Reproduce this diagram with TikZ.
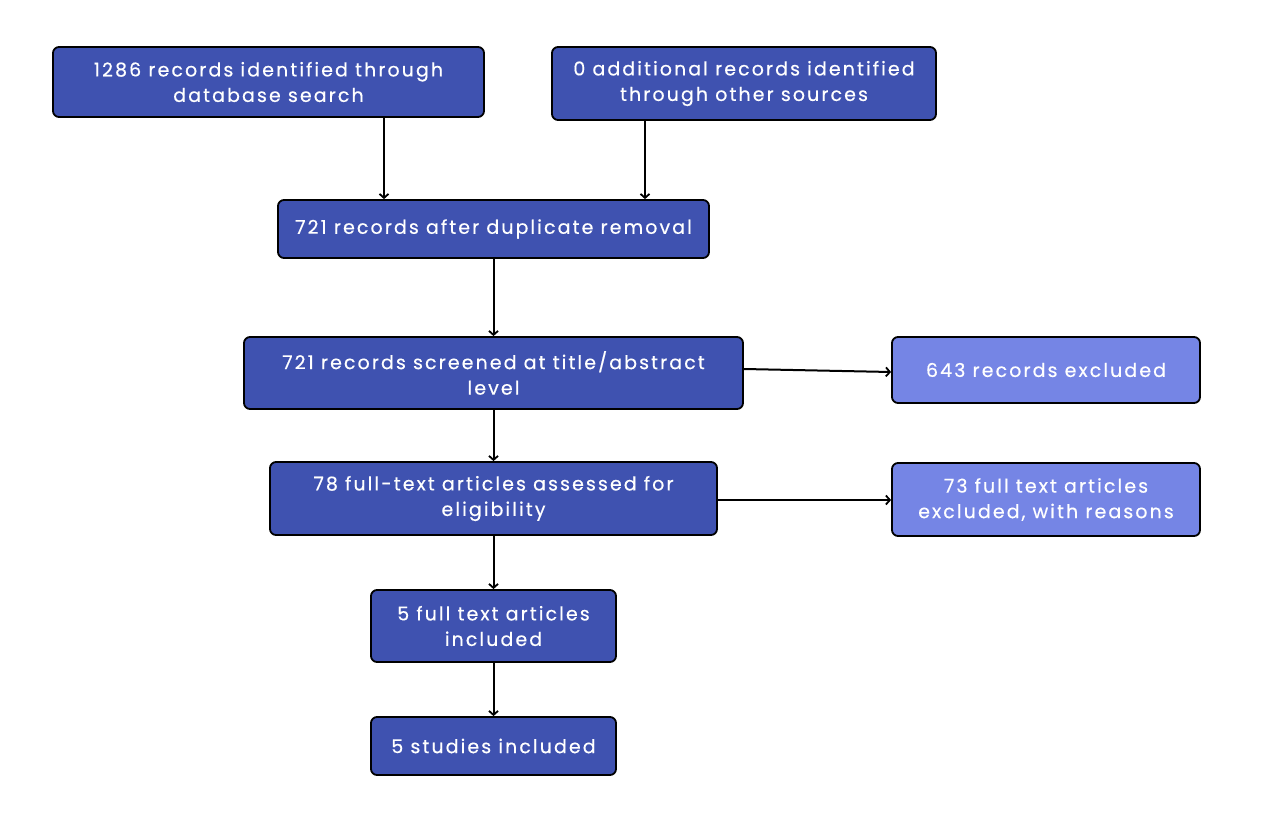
\documentclass[tikz,border=0pt]{standalone}
\usepackage{fontspec}
\setmainfont{Poppins}[LetterSpace=11,FakeBold=0.4]
\usetikzlibrary{arrows.meta}
\definecolor{boxdark}{RGB}{63,82,176}
\definecolor{boxlight}{RGB}{117,133,229}
\tikzset{
  flowbox/.style={draw=black, line width=1.8pt, rounded corners=6pt, fill=boxdark,
    text=white, align=center, font=\fontsize{19}{25.5}\selectfont, inner sep=0pt},
  exclbox/.style={flowbox, fill=boxlight},
  flowarrow/.style={draw=black, line width=2pt, -{Straight Barb[length=4pt,width=9pt,line width=1.8pt]}}
}
\begin{document}
\begin{tikzpicture}[x=1pt,y=-1pt]
\useasboundingbox (0,0) rectangle (1280,816);
% boxes by pixel geometry: center, width, height
\node[flowbox, minimum width=431pt, minimum height=70pt] (A) at (268.5,82) {1286 records identified through\\database search};
\node[flowbox, minimum width=384pt, minimum height=73pt] (B) at (744,83.5) {0 additional records identified\\through other sources};
\node[flowbox, minimum width=431pt, minimum height=58pt] (C) at (493.5,229) {721 records after duplicate removal};
\node[flowbox, minimum width=499pt, minimum height=72pt] (D) at (493.5,373) {721 records screened at title/abstract\\level};
\node[exclbox, minimum width=308pt, minimum height=66pt] (E) at (1046,370) {643 records excluded};
\node[flowbox, minimum width=447pt, minimum height=73pt] (F) at (493.5,498.5) {78 full-text articles assessed for\\eligibility};
\node[exclbox, minimum width=308pt, minimum height=73pt] (G) at (1046,499.5) {73 full text articles\\excluded, with reasons};
\node[flowbox, minimum width=245pt, minimum height=72pt] (H) at (493.5,626) {5 full text articles\\included};
\node[flowbox, minimum width=245pt, minimum height=58pt] (I) at (493.5,746) {5 studies included};
% connectors
\draw[flowarrow] (A.south -| 384,0) -- (C.north -| 384,0);
\draw[flowarrow] (B.south -| 645,0) -- (C.north -| 645,0);
\draw[flowarrow] (C) -- (D);
\draw[flowarrow] (D) -- (F);
\draw[flowarrow] (F) -- (H);
\draw[flowarrow] (H) -- (I);
\draw[flowarrow] (D.east |- 0,369) -- (E.west |- 0,372);
\draw[flowarrow] (F.east |- 0,500) -- (G.west |- 0,500);
\end{tikzpicture}
\end{document}
